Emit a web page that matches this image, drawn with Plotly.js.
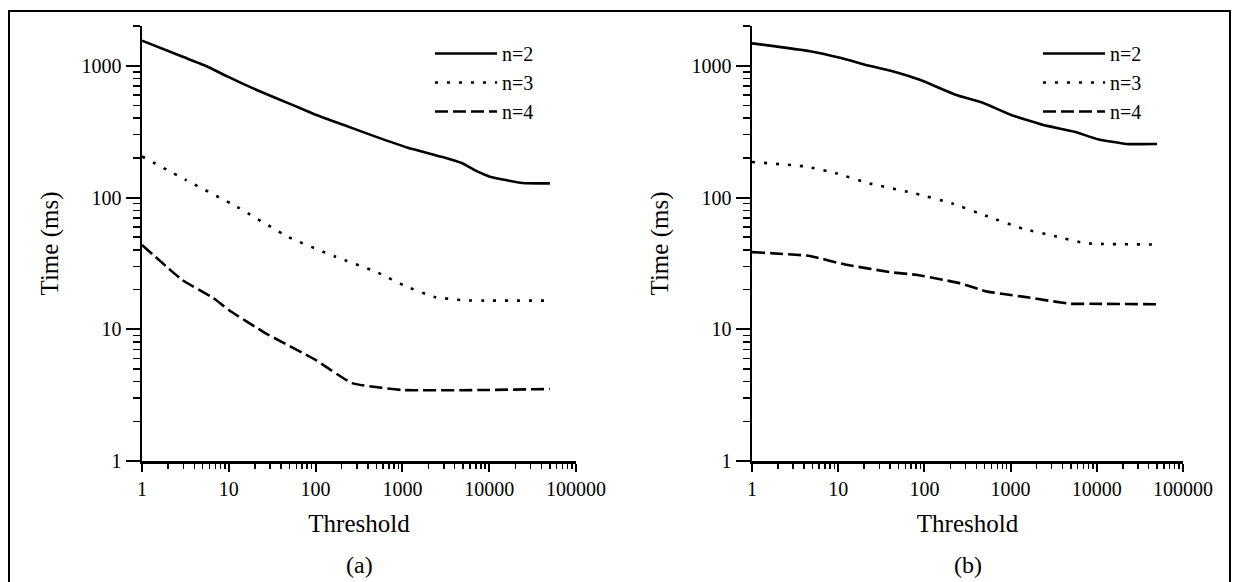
<!DOCTYPE html>
<html>
<head>
<meta charset="utf-8">
<script src="https://cdn.plot.ly/plotly-3.0.1.min.js"></script>
<style>
  html, body { margin: 0; padding: 0; background: #ffffff; }
  #chart { width: 1236px; height: 582px; }
</style>
</head>
<body>
<div id="chart"></div>
<script>
// ---- Data ----
// Panel (a)
const a_n2_x = [1, 2.9, 5.4, 9.6, 21, 54, 100, 212, 490, 1130, 2900, 4900, 6700, 10200, 24000, 50000];
const a_n2_y = [1550, 1175, 1000, 830, 655, 505, 425, 355, 290, 240, 203, 182, 162, 144, 129, 128];
const a_n3_x = [1, 3.2, 12.4, 49, 170, 490, 1130, 2350, 5000, 10000, 50000];
const a_n3_y = [205, 136, 85, 50, 35.5, 27.4, 21, 17.6, 16.6, 16.5, 16.5];
const a_n4_x = [1, 2.9, 6.6, 10, 26, 100, 263, 1000, 9100, 50000];
const a_n4_y = [43.7, 23.7, 17.3, 14, 9.4, 5.85, 3.9, 3.46, 3.46, 3.52];
// Panel (b)
const b_n2_x = [1, 4.7, 10.8, 23, 48, 90, 235, 490, 1000, 2400, 5500, 10300, 22000, 50000];
const b_n2_y = [1480, 1290, 1145, 1000, 890, 780, 600, 520, 425, 355, 316, 277, 255, 255];
const b_n3_x = [1, 4.2, 9.7, 23, 80, 210, 540, 1380, 3230, 7450, 50000];
const b_n3_y = [186, 172, 152, 128, 107, 90, 72, 58, 51, 45, 44];
const b_n4_x = [1, 4.7, 12, 43, 80, 168, 260, 540, 1000, 1380, 4950, 8300, 50000];
const b_n4_y = [38.5, 36, 31, 27, 25.9, 23.7, 22.3, 19.3, 18.2, 17.7, 15.6, 15.6, 15.5];

const seriesNames = ['n=2', 'n=3', 'n=4'];
const xTickVals = [1, 10, 100, 1000, 10000, 100000];
const xTickText = ['1', '10', '100', '1000', '10000', '100000'];
const yTickVals = [1, 10, 100, 1000];
const yTickText = ['1', '10', '100', '1000'];
const panelLabels = ['(a)', '(b)'];
const xTitle = 'Threshold';
const yTitle = 'Time (ms)';

// minor tick positions (2..9 within each decade)
function minorTicks(decades, extra) {
  const out = [];
  for (let k = 0; k < decades; k++) {
    for (let m = 2; m <= 9; m++) out.push(m * Math.pow(10, k));
  }
  return out.concat(extra || []);
}
const xMinor = minorTicks(5);
const yMinor = minorTicks(3, [2000]);

// ---- Styling ----
const FONT = 'Liberation Serif, Times New Roman, serif';
const dashes = ['solid', '3px,9px', '13px,5px'];
const LW = 2.6;

function mk(x, y, i, xa, ya, leg) {
  return {
    x: x, y: y, type: 'scatter', mode: 'lines',
    name: seriesNames[i], xaxis: xa, yaxis: ya, legend: leg,
    line: { color: '#000', width: LW, dash: dashes[i], shape: 'spline', smoothing: 0.4 },
    hoverinfo: 'x+y+name'
  };
}

const traces = [
  mk(a_n2_x, a_n2_y, 0, 'x', 'y', 'legend'),
  mk(a_n3_x, a_n3_y, 1, 'x', 'y', 'legend'),
  mk(a_n4_x, a_n4_y, 2, 'x', 'y', 'legend'),
  mk(b_n2_x, b_n2_y, 0, 'x2', 'y2', 'legend2'),
  mk(b_n3_x, b_n3_y, 1, 'x2', 'y2', 'legend2'),
  mk(b_n4_x, b_n4_y, 2, 'x2', 'y2', 'legend2')
];

const W = 1236, H = 582;
const yDom = [(H - 461) / H, (H - 26) / H];

function xAxis(dom, anchor) {
  return {
    type: 'log', domain: dom, anchor: anchor, range: [0, 5],
    tickmode: 'array', tickvals: xTickVals, ticktext: xTickText,
    ticks: 'outside', ticklen: 8, tickwidth: 2, tickcolor: '#000',
    minor: { tickmode: 'array', tickvals: xMinor, ticks: 'outside', ticklen: 5, tickwidth: 1.5, tickcolor: '#000', showgrid: false },
    showline: true, linecolor: '#000', linewidth: 2.5, mirror: false,
    showgrid: false, zeroline: false,
    tickfont: { family: FONT, size: 20, color: '#000' },
    title: { text: xTitle, font: { family: FONT, size: 25, color: '#000' }, standoff: 16 }
  };
}
function yAxis(anchor) {
  return {
    type: 'log', domain: yDom, anchor: anchor, range: [0, Math.log10(2000) + 0.001],
    tickmode: 'array', tickvals: yTickVals, ticktext: yTickText,
    ticks: 'outside', ticklen: 14, tickwidth: 2, tickcolor: '#000',
    minor: { tickmode: 'array', tickvals: yMinor, ticks: 'outside', ticklen: 7, tickwidth: 1.5, tickcolor: '#000', showgrid: false },
    showline: true, linecolor: '#000', linewidth: 2.5, mirror: false,
    showgrid: false, zeroline: false,
    tickfont: { family: FONT, size: 20, color: '#000' },
    title: { text: yTitle, font: { family: FONT, size: 25, color: '#000' }, standoff: 16 }
  };
}

const xd1 = [142 / W, 576 / W];
const xd2 = [752 / W, 1183 / W];

const legendCommon = {
  font: { family: FONT, size: 20, color: '#000' },
  bgcolor: 'rgba(0,0,0,0)', borderwidth: 0,
  xanchor: 'left', yanchor: 'top', itemwidth: 62,
  itemclick: false, itemdoubleclick: false
};

const layout = {
  width: W, height: H,
  margin: { l: 0, r: 0, t: 0, b: 0 },
  paper_bgcolor: '#fff', plot_bgcolor: 'rgba(0,0,0,0)',
  showlegend: true,
  xaxis: xAxis(xd1, 'y'),
  yaxis: yAxis('x'),
  xaxis2: xAxis(xd2, 'y2'),
  yaxis2: yAxis('x2'),
  legend: Object.assign({}, legendCommon, { x: 430 / W, y: 1 - 34 / H }),
  legend2: Object.assign({}, legendCommon, { x: 1038 / W, y: 1 - 34 / H }),
  annotations: [
    { text: panelLabels[0], xref: 'paper', yref: 'paper', x: (xd1[0] + xd1[1]) / 2, y: 1 - 565 / H,
      showarrow: false, font: { family: FONT, size: 24, color: '#000' }, xanchor: 'center', yanchor: 'middle' },
    { text: panelLabels[1], xref: 'paper', yref: 'paper', x: (xd2[0] + xd2[1]) / 2, y: 1 - 565 / H,
      showarrow: false, font: { family: FONT, size: 24, color: '#000' }, xanchor: 'center', yanchor: 'middle' }
  ],
  shapes: [
    { type: 'rect', xref: 'paper', yref: 'paper', x0: 9 / W, x1: 1230 / W, y0: -0.02, y1: 1 - 11 / H,
      line: { color: '#000', width: 2 }, fillcolor: 'rgba(0,0,0,0)', layer: 'below' }
  ]
};

Plotly.newPlot('chart', traces, layout, { staticPlot: true, displayModeBar: false });
</script>
</body>
</html>
